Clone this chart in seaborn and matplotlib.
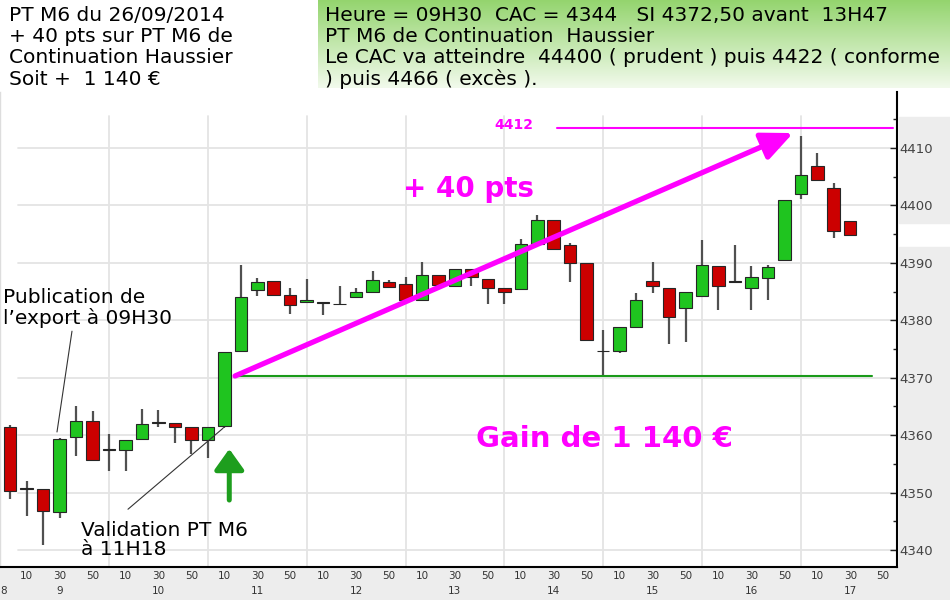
import numpy as np
import pandas as pd
import matplotlib
matplotlib.use("Agg")
import matplotlib.pyplot as plt
import matplotlib.transforms as mtrans
from matplotlib.patches import Rectangle
import seaborn as sns

# 10 minute candles, CAC 40, 26/09/2014
times = ["09:00", "09:10", "09:20", "09:30", "09:40", "09:50",
         "10:00", "10:10", "10:20", "10:30", "10:40", "10:50",
         "11:00", "11:10", "11:20", "11:30", "11:40", "11:50",
         "12:00", "12:10", "12:20", "12:30", "12:40", "12:50",
         "13:00", "13:10", "13:20", "13:30", "13:40", "13:50",
         "14:00", "14:10", "14:20", "14:30", "14:40", "14:50",
         "15:00", "15:10", "15:20", "15:30", "15:40", "15:50",
         "16:00", "16:10", "16:20", "16:30", "16:40", "16:50",
         "17:00", "17:10", "17:20", "17:30"]
opens = [4361.5, 4350.6, 4350.6, 4346.7, 4359.7, 4362.5,
         4357.4, 4357.4, 4359.3, 4362.1, 4362.1, 4361.5,
         4359.2, 4361.6, 4374.7, 4385.2, 4386.9, 4384.4,
         4383.1, 4383.0, 4382.8, 4384.1, 4385.0, 4386.6,
         4386.4, 4383.5, 4387.9, 4386.0, 4388.9, 4387.2,
         4385.6, 4385.4, 4393.2, 4397.5, 4393.1, 4390.0,
         4374.6, 4374.6, 4378.9, 4386.9, 4385.6, 4382.2,
         4384.2, 4389.5, 4386.7, 4385.7, 4387.4, 4390.5,
         4402.0, 4406.9, 4403.0, 4397.3]
highs = [4361.8, 4352.1, 4350.6, 4359.5, 4365.0, 4364.2,
         4360.2, 4359.2, 4364.5, 4364.4, 4362.1, 4361.5,
         4361.5, 4374.4, 4389.6, 4387.3, 4386.9, 4385.7,
         4387.2, 4383.0, 4386.0, 4385.6, 4388.5, 4387.1,
         4387.5, 4390.1, 4387.9, 4388.9, 4388.9, 4387.2,
         4385.6, 4394.2, 4398.3, 4397.5, 4393.5, 4390.0,
         4378.3, 4378.9, 4384.8, 4390.2, 4385.6, 4385.0,
         4394.0, 4389.5, 4393.1, 4389.5, 4389.6, 4400.9,
         4412.1, 4409.2, 4403.9, 4397.3]
lows = [4348.9, 4345.9, 4340.8, 4345.5, 4356.4, 4355.6,
        4353.8, 4353.8, 4359.3, 4361.5, 4358.6, 4356.8,
        4356.0, 4361.2, 4374.7, 4384.2, 4384.4, 4381.1,
        4383.1, 4381.0, 4382.8, 4384.1, 4384.7, 4385.8,
        4383.5, 4383.5, 4386.1, 4386.0, 4385.9, 4382.8,
        4382.8, 4385.4, 4393.2, 4392.2, 4386.6, 4376.5,
        4370.2, 4374.3, 4378.9, 4384.7, 4375.9, 4376.2,
        4384.2, 4381.8, 4386.7, 4381.8, 4383.5, 4390.5,
        4401.2, 4404.5, 4394.4, 4394.9]
closes = [4350.3, 4350.6, 4346.8, 4359.4, 4362.5, 4355.6,
          4357.4, 4359.2, 4361.9, 4362.1, 4361.5, 4359.2,
          4361.5, 4374.4, 4384.1, 4386.6, 4384.4, 4382.7,
          4383.5, 4383.0, 4382.8, 4385.0, 4387.0, 4385.8,
          4383.5, 4387.9, 4386.1, 4388.9, 4387.5, 4385.6,
          4385.0, 4393.2, 4397.4, 4392.4, 4389.9, 4376.5,
          4374.6, 4378.9, 4383.5, 4386.0, 4380.5, 4385.0,
          4389.6, 4386.0, 4386.7, 4387.6, 4389.2, 4400.9,
          4405.3, 4404.5, 4395.6, 4394.9]

y_ticks = [4340, 4350, 4360, 4370, 4380, 4390, 4400, 4410]
hour_labels = ["9", "10", "11", "12", "13", "14", "15", "16", "17"]

# levels drawn on the chart (minutes after 09:00, index points)
support_level = 4370.3
support_span = [136.5, 523.3]
target_level = 4413.4
target_span = [332.0, 536.0]
trend_start = (136.5, 4370.3)
trend_end = (475.3, 4412.6)
signal_arrow = (133.0, 4348.7, 4357.6)

sns.set_theme(style="white")
plt.rcParams['font.family'] = ['DejaVu Sans']

df = pd.DataFrame({"time": times, "open": opens, "high": highs,
                   "low": lows, "close": closes})
df["minute"] = df["time"].apply(lambda t: (int(t[:2]) - 9) * 60 + int(t[3:]))
df["bottom"] = df[["open", "close"]].min(axis=1)
df["body"] = (df["close"] - df["open"]).abs().clip(lower=0.12)
df["colour"] = np.where(df["close"] > df["open"], "#1fc41f",
                        np.where(df["close"] < df["open"], "#cc0000", "#222222"))

fig = plt.figure(figsize=(9.5, 6), dpi=100)
fig.patch.set_facecolor("white")
ax = fig.add_axes([0, 33 / 600, 897 / 950, 475 / 600])
ax.set_facecolor("white")

# grey strips around the chart
fig.add_artist(Rectangle((0, 0), 1, 33 / 600, transform=fig.transFigure,
                         color="#ededed", zorder=-1))
fig.add_artist(Rectangle((899 / 950, 33 / 600), 51 / 950, (567 - 247) / 600,
                         transform=fig.transFigure, color="#ededed", zorder=-1))
fig.add_artist(Rectangle((899 / 950, (600 - 223) / 600), 51 / 950, (223 - 117) / 600,
                         transform=fig.transFigure, color="#ededed", zorder=-1))

# grid: hours and every 10 points
for m in range(60, 540, 60):
    ax.axvline(m, ymax=0.95, color="#e4e4e4", lw=1.3, zorder=0)
for v in y_ticks:
    ax.axhline(v, xmin=0.02, color="#e4e4e4", lw=1.3, zorder=0)

# candles
ax.vlines(df["minute"], df["low"], df["high"], color="#505050", lw=1.6, zorder=2)
ax.bar(df["minute"], df["body"], bottom=df["bottom"], width=7.6,
       color=df["colour"], edgecolor="#262626", linewidth=0.8, zorder=3)

# levels and arrows
sns.lineplot(x=support_span, y=[support_level] * 2, color="#1a9a1a", lw=1.5, ax=ax, zorder=4)
sns.lineplot(x=target_span, y=[target_level] * 2, color="#ff00ff", lw=1.5, ax=ax, zorder=4)
ax.annotate("", xy=trend_end, xytext=trend_start,
            arrowprops=dict(arrowstyle="-|>,head_length=1.0,head_width=0.45",
                            color="#ff00ff", lw=3.8, mutation_scale=19,
                            shrinkA=0, shrinkB=0), zorder=5)
ax.annotate("", xy=(signal_arrow[0], signal_arrow[2]),
            xytext=(signal_arrow[0], signal_arrow[1]),
            arrowprops=dict(arrowstyle="-|>,head_length=0.7,head_width=0.5",
                            color="#1e9e1e", lw=3.6, mutation_scale=18,
                            shrinkA=0, shrinkB=0), zorder=5)
ax.plot([37.5, 28.4], [4378.1, 4360.55], color="#333333", lw=0.8, zorder=6)
ax.plot([71.5, 129.2], [4347.1, 4361.2], color="#333333", lw=0.8, zorder=6)

# axes
ax.set_xlim(-6.2, 538.4)
ax.set_ylim(4337.04, 4419.75)
ax.set_xlabel("")
ax.set_ylabel("")
major_x = list(range(0, 540, 10))
ax.set_xticks(major_x)
ax.set_xticklabels([str(m % 60) if m % 60 in (10, 30, 50) else "" for m in major_x])
ax.set_yticks(y_ticks)
ax.set_yticks([v + 5 for v in y_ticks], minor=True)
ax.yaxis.tick_right()
ax.tick_params(axis="x", which="major", direction="in", length=3, width=1,
               color="#222222", labelsize=7.5, labelcolor="#333333", pad=3)
ax.tick_params(axis="y", which="major", direction="in", length=5, width=1,
               color="#222222", labelsize=9.5, labelcolor="#444444", pad=2,
               right=True, left=False)
ax.tick_params(axis="y", which="minor", direction="in", length=3, width=1,
               color="#222222", right=True, left=False)
ax.grid(False)
ax.spines["top"].set_visible(False)
ax.spines["left"].set_color("#dddddd")
ax.spines["left"].set_linewidth(1)
for side in ["right", "bottom"]:
    ax.spines[side].set_color("black")
    ax.spines[side].set_linewidth(1.5)

trans = mtrans.blended_transform_factory(ax.transData, ax.transAxes)
for i, lab in enumerate(hour_labels):
    ax.text(30 + 60 * i, -0.05, lab, transform=trans, ha="center", va="center",
            fontsize=7.5, color="#333333")
ax.text(-4.3, -0.05, "8", transform=trans, ha="center", va="center",
        fontsize=7.5, color="#333333")

# green comment box
box = fig.add_axes([318 / 950, 1 - 88 / 600, 632 / 950, 88 / 600], zorder=1)
grad = np.linspace(0, 1, 100).reshape(-1, 1)
top_c = np.array([0x93, 0xd4, 0x6d]) / 255
bot_c = np.array([0xf2, 0xfa, 0xec]) / 255
img = top_c[None, None, :] * (1 - grad[:, :, None]) + bot_c[None, None, :] * grad[:, :, None]
box.imshow(img, aspect="auto", extent=[0, 1, 0, 1])
box.set_axis_off()


def ftext(px, py, s, **kw):
    fig.text(px / 950, 1 - py / 600, s, va="baseline", zorder=10, **kw)


left_lines = ["PT M6 du 26/09/2014", "+ 40 pts sur PT M6 de",
              "Continuation Haussier", "Soit +  1 140 \u20ac"]
right_lines = ["Heure = 09H30  CAC = 4344   SI 4372,50 avant  13H47",
               "PT M6 de Continuation  Haussier",
               "Le CAC va atteindre  44400 ( prudent ) puis 4422 ( conforme",
               ") puis 4466 ( exc\u00e8s )."]
for i, (a, b) in enumerate(zip(left_lines, right_lines)):
    base = [21, 42, 63, 85][i]
    ftext(9, base, a, fontsize=14.5, color="black")
    ftext(325, base, b, fontsize=14.5, color="black")

ftext(3, 303, "Publication de", fontsize=14.5, color="black")
ftext(3, 324, "l\u2019export \u00e0 09H30", fontsize=14.5, color="black")
ftext(81, 536, "Validation PT M6", fontsize=14.5, color="black")
ftext(81, 555, "\u00e0 11H18", fontsize=14.5, color="black")
ftext(403, 197, "+ 40 pts", fontsize=20, fontweight="bold", color="#ff00ff")
ftext(476, 447, "Gain de 1 140 \u20ac", fontsize=21, fontweight="bold", color="#ff00ff")
ftext(494, 129, "4412", fontsize=10, fontweight="bold", color="#ff00ff")

fig.savefig("out.png", dpi=100)
